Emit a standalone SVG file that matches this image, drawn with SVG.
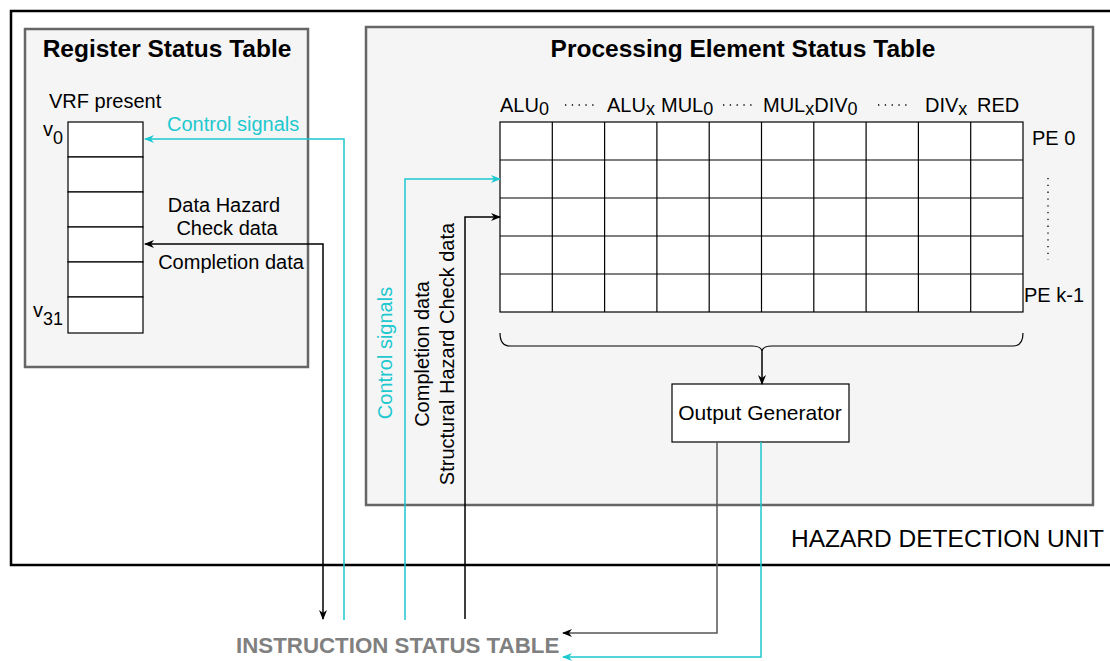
<svg xmlns="http://www.w3.org/2000/svg" width="1110" height="661" viewBox="0 0 1110 661">
<style>
text{font-family:"Liberation Sans",Arial,sans-serif;font-size:20px;fill:#000}
.title{font-weight:bold;font-size:24.5px;text-anchor:middle}
.cyan{fill:#1ec8cf}
.panel{fill:#f5f5f5;stroke:#666;stroke-width:2.5}
.cell{fill:#fff;stroke:#000;stroke-width:1.2}
.gl{stroke:#000;stroke-width:1.2;fill:none}
.bl{stroke:#000;stroke-width:1.5;fill:none}
.cl{stroke:#1ec8cf;stroke-width:1.5;fill:none}
.dots{stroke:#000;stroke-width:1.3;stroke-dasharray:1.3 5.5;fill:none}
</style>
<defs>
<marker id="ab" viewBox="0 0 10 10" refX="9" refY="5" markerWidth="10" markerHeight="10" orient="auto-start-reverse" markerUnits="userSpaceOnUse"><path d="M0,1 L10,5 L0,9 L3,5 Z" fill="#000"/></marker>
<marker id="ac" viewBox="0 0 10 10" refX="9" refY="5" markerWidth="10" markerHeight="10" orient="auto" markerUnits="userSpaceOnUse"><path d="M0,1 L10,5 L0,9 L3,5 Z" fill="#1ec8cf"/></marker>
</defs>
<rect width="1110" height="661" fill="#fff"/>
<g id="hdu">
<rect x="11" y="11" width="1120" height="554" fill="#fff" stroke="#000" stroke-width="2.5"/>
<text x="791" y="547" style="font-size:24.5px">HAZARD DETECTION UNIT</text>
</g>
<g id="rst">
<rect class="panel" x="25" y="29" width="283" height="338"/>
<text class="title" x="167" y="57">Register Status Table</text>
<text x="49" y="108">VRF present</text>
<rect class="cell" x="68" y="122" width="75" height="35"/>
<rect class="cell" x="68" y="157" width="75" height="35"/>
<rect class="cell" x="68" y="192" width="75" height="35"/>
<rect class="cell" x="68" y="227" width="75" height="35"/>
<rect class="cell" x="68" y="262" width="75" height="35"/>
<rect class="cell" x="68" y="297" width="75" height="36"/>
<text x="43" y="136">v<tspan dy="8" style="font-size:18px">0</tspan></text>
<text x="33" y="317">v<tspan dy="8" style="font-size:18px">31</tspan></text>
<text class="cyan" x="167" y="131">Control signals</text>
<text x="224" y="212" text-anchor="middle">Data Hazard</text>
<text x="227" y="235" text-anchor="middle">Check data</text>
<text x="231" y="269" text-anchor="middle">Completion data</text>
</g>
<g id="pest">
<rect class="panel" x="366" y="27" width="727" height="478"/>
<text class="title" x="743" y="57">Processing Element Status Table</text>
<rect class="cell" x="500" y="122" width="523" height="190"/>
<path class="gl" d="M552.3,122V312M604.6,122V312M656.9,122V312M709.2,122V312M761.5,122V312M813.8,122V312M866.1,122V312M918.4,122V312M970.7,122V312M500,160H1023M500,198H1023M500,236H1023M500,274H1023"/>
<text x="500" y="112">ALU<tspan dy="3" style="font-size:18px">0</tspan></text>
<text x="607" y="112">ALU<tspan dy="3" style="font-size:18px">x</tspan></text>
<text x="661" y="112">MUL<tspan dy="3" style="font-size:18px">0</tspan></text>
<text x="763" y="112">MUL<tspan dy="3" style="font-size:18px">x</tspan><tspan dy="-3">DIV</tspan><tspan dy="3" style="font-size:18px">0</tspan></text>
<text x="925" y="112">DIV<tspan dy="3" style="font-size:18px">x</tspan></text>
<text x="977" y="112">RED</text>
<path class="dots" d="M565,105H595M723,105H753M878,105H908M1048,178V260"/>
<text x="1032" y="145">PE 0</text>
<text x="1024" y="302">PE k-1</text>
<path class="gl" d="M500,333Q500,346 510,346L752,346Q762,346 762,352Q762,346 772,346L1013,346Q1023,346 1023,333"/>
<text class="cyan" transform="translate(392,353) rotate(-90)" text-anchor="middle">Control signals</text>
<text transform="translate(429,354) rotate(-90)" text-anchor="middle">Completion data</text>
<text transform="translate(454,354) rotate(-90)" text-anchor="middle">Structural Hazard Check data</text>
</g>
<g id="og">
<rect x="672" y="384" width="177" height="58" fill="#fff" stroke="#000" stroke-width="1.2"/>
<text x="760" y="420" text-anchor="middle" style="font-size:21px">Output Generator</text>
</g>
<g id="ist">
<text x="236" y="653" style="font-weight:bold;font-size:22.3px;fill:#808080">INSTRUCTION STATUS TABLE</text>
</g>
<g id="connectors">
<path class="cl" d="M344,620V139H145" marker-end="url(#ac)"/>
<path class="bl" d="M145,244H323V619" marker-start="url(#ab)" marker-end="url(#ab)"/>
<path class="cl" d="M405,620V179H500" marker-end="url(#ac)"/>
<path class="bl" d="M465,619V217H500" marker-end="url(#ab)"/>
<path class="bl" d="M762,352V384" marker-end="url(#ab)"/>
<path d="M717,442V633H563" stroke="#555" stroke-width="1.5" fill="none" marker-end="url(#ab)"/>
<path class="cl" d="M761,442V657H563" marker-end="url(#ac)"/>
</g>
</svg>
